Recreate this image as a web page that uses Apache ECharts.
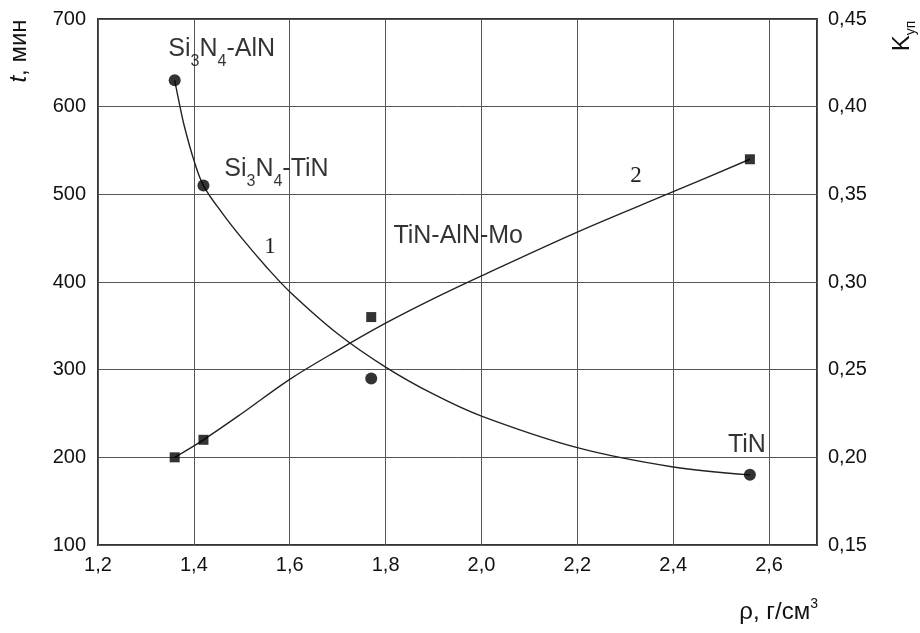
<!DOCTYPE html>
<html>
<head>
<meta charset="utf-8">
<script src="https://cdn.jsdelivr.net/npm/echarts@6/dist/echarts.min.js"></script>
<style>
  html, body { margin: 0; padding: 0; background: #fff; }
  #chart { width: 920px; height: 633px; }
</style>
</head>
<body>
<div id="chart"></div>
<script>
// measured points: density vs. durability (circles) and K (squares)
const rho = [1.36, 1.42, 1.77, 2.56];
const tMin = [630, 510, 290, 180];
const kUp = [0.20, 0.21, 0.28, 0.37];
const materials = ["Si{s|3}N{s|4}-AlN", "Si{s|3}N{s|4}-TiN", "TiN-AlN-Mo", "TiN"];

// fitted curve 1 (t, мин)
const curve1X = [1.36, 1.37, 1.38, 1.40, 1.42, 1.46, 1.50, 1.55, 1.60, 1.70, 1.80, 1.90, 2.00, 2.20, 2.40, 2.56];
const curve1Y = [630, 603, 578, 539, 510, 478, 450, 418, 389, 341, 303, 272, 247, 211, 189, 180];

// fitted curve 2 (K уп)
const curve2X = [1.36, 1.42, 1.50, 1.60, 1.70, 1.80, 1.90, 2.00, 2.20, 2.40, 2.56];
const curve2K = [0.200, 0.210, 0.225, 0.2445, 0.261, 0.2765, 0.2905, 0.3035, 0.3285, 0.3515, 0.370];

const font = "'Liberation Sans', Arial, sans-serif";
const serif = "'Liberation Serif', 'Times New Roman', serif";
const comma = (v, d) => v.toFixed(d).replace(".", ",");

const subRich = {
  s: { fontSize: 16, fontFamily: font, color: "#000", padding: [25, 0, 0, 0] },
};

const textLabel = (offset, text) => ({
  show: true,
  position: "inside",
  offset,
  formatter: text,
  color: "#000",
  fontSize: 25,
  fontFamily: font,
  rich: subRich,
});

// label offsets for each material name (pixels from the marker)
const circleLabelOffset = [[47, -31], [73, -16], null, [-3, -30]];

const circleData = rho.map((x, i) => {
  const item = { value: [x, tMin[i]] };
  if (circleLabelOffset[i]) item.label = textLabel(circleLabelOffset[i], materials[i]);
  return item;
});
const squareData = rho.map((x, i) => {
  const item = { value: [x, kUp[i]] };
  if (i === 2) item.label = textLabel([87, -81], materials[i]);
  return item;
});

const chart = echarts.init(document.getElementById("chart"), null, { renderer: "canvas" });

const tickLabel = { color: "#111", fontSize: 20, fontFamily: font };

chart.setOption({
  animation: false,
  backgroundColor: "#fff",
  grid: {
    left: 98, right: 103, top: 19, bottom: 88,
    show: true, borderColor: "#333", borderWidth: 2,
    outerBoundsMode: "none",
  },
  xAxis: {
    type: "value",
    min: 1.2, max: 2.7, interval: 0.2,
    axisLine: { show: false },
    axisTick: { show: false },
    axisLabel: { ...tickLabel, margin: 10, showMaxLabel: false, formatter: (v) => comma(v, 1) },
    splitLine: { show: true, lineStyle: { color: "#555", width: 1 } },
  },
  yAxis: [
    {
      type: "value",
      min: 100, max: 700, interval: 100,
      axisLine: { show: false },
      axisTick: { show: false },
      axisLabel: { ...tickLabel, margin: 12 },
      splitLine: { show: true, lineStyle: { color: "#555", width: 1 } },
    },
    {
      type: "value",
      min: 0.15, max: 0.45, interval: 0.05,
      axisLine: { show: false },
      axisTick: { show: false },
      axisLabel: { ...tickLabel, margin: 11, formatter: (v) => comma(v, 2) },
      splitLine: { show: false },
    },
  ],
  series: [
    {
      type: "line",
      yAxisIndex: 0,
      data: curve1X.map((x, i) => [x, curve1Y[i]]),
      smooth: 0.35,
      showSymbol: false,
      lineStyle: { color: "#222", width: 1.4 },
      z: 2,
    },
    {
      type: "line",
      yAxisIndex: 1,
      data: curve2X.map((x, i) => [x, curve2K[i]]),
      smooth: 0.35,
      showSymbol: false,
      lineStyle: { color: "#222", width: 1.4 },
      z: 2,
    },
    {
      type: "scatter",
      yAxisIndex: 0,
      symbol: "circle",
      symbolSize: 12,
      itemStyle: { color: "#000" },
      data: circleData,
      z: 3,
    },
    {
      type: "scatter",
      yAxisIndex: 1,
      symbol: "rect",
      symbolSize: 10,
      itemStyle: { color: "#000" },
      data: squareData,
      z: 3,
    },
  ],
  graphic: [
    { type: "text", x: 270, y: 247, style: { text: "1", fontSize: 23, fontFamily: serif, fill: "#222", align: "center", verticalAlign: "middle" } },
    { type: "text", x: 636, y: 176, style: { text: "2", fontSize: 23, fontFamily: serif, fill: "#222", align: "center", verticalAlign: "middle" } },
    {
      type: "text", x: 19, y: 51, rotation: Math.PI / 2,
      style: {
        text: "{i|t}, мин", align: "center", verticalAlign: "middle",
        fontSize: 24, fontFamily: font, fill: "#111",
        rich: { i: { fontStyle: "italic", fontSize: 24, fontFamily: font } },
      },
    },
    {
      type: "text", x: 902, y: 36, rotation: Math.PI / 2,
      style: {
        text: "K{s|уп}", align: "center", verticalAlign: "middle",
        fontSize: 24, fontFamily: font, fill: "#111",
        rich: { s: { fontSize: 14, fontFamily: font, padding: [18, 0, 0, 0] } },
      },
    },
    {
      type: "text", x: 818, y: 612,
      style: {
        text: "ρ, г/см{p|3}", align: "right", verticalAlign: "middle",
        fontSize: 24, fontFamily: font, fill: "#111",
        rich: { p: { fontSize: 14, fontFamily: font, padding: [0, 0, 16, 0] } },
      },
    },
  ],
});
</script>
</body>
</html>
